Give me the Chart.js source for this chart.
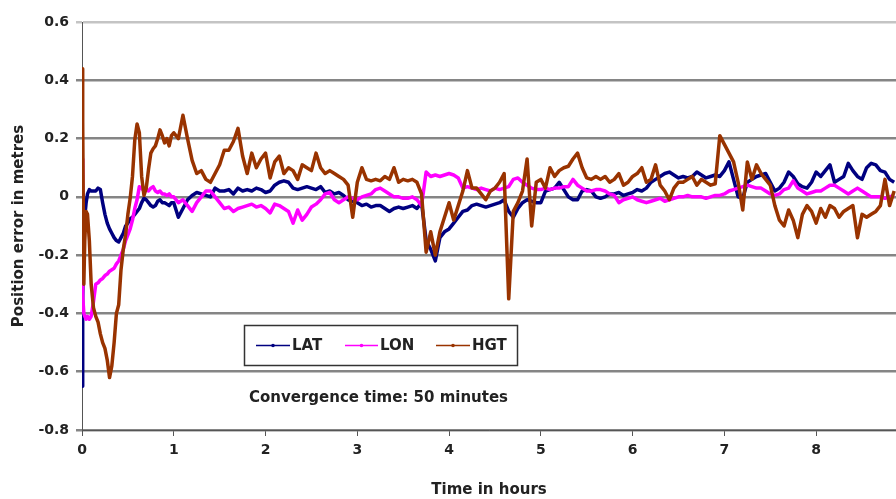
<!DOCTYPE html>
<html>
<head>
<meta charset="utf-8">
<script src="https://cdn.jsdelivr.net/npm/chart.js@4/dist/chart.umd.min.js"></script>
<style>
html,body{margin:0;padding:0;background:#fff;}
#wrap{position:relative;width:896px;height:499px;}
</style>
</head>
<body>
<div id="wrap"><canvas id="c" width="896" height="499"></canvas></div>
<script>
// Time in hours (x values)
const hours = [
  0, 0.005, 0.01, 0.02, 0.03, 0.045, 0.06, 0.08, 0.1,
  0.125, 0.15, 0.175, 0.2, 0.225, 0.25, 0.275, 0.3, 0.325, 0.35, 0.375, 0.4,
  0.425, 0.45, 0.475, 0.5, 0.525, 0.55, 0.575, 0.6, 0.625, 0.65, 0.675, 0.7,
  0.725, 0.75, 0.775, 0.8, 0.825, 0.85, 0.875, 0.9, 0.925, 0.95, 0.975, 1.0,
  1.05, 1.1, 1.15, 1.2, 1.25, 1.3, 1.35, 1.4, 1.45, 1.5, 1.55,
  1.6, 1.65, 1.7, 1.75, 1.8, 1.85, 1.9, 1.95, 2.0, 2.05,
  2.1, 2.15, 2.2, 2.25, 2.3, 2.35, 2.4, 2.45, 2.5, 2.55,
  2.6, 2.65, 2.7, 2.75, 2.8, 2.85, 2.9, 2.95, 3.0, 3.05,
  3.1, 3.15, 3.2, 3.25,
  3.3, 3.35, 3.4, 3.45, 3.5, 3.55, 3.6, 3.65, 3.7, 3.75,
  3.8, 3.85, 3.9, 3.95, 4.0, 4.05, 4.1, 4.15, 4.2, 4.25,
  4.3, 4.35, 4.4, 4.45, 4.5, 4.55, 4.6, 4.65, 4.7, 4.75,
  4.8, 4.85, 4.9, 4.95,
  5.0, 5.05, 5.1, 5.15, 5.2, 5.25, 5.3, 5.35, 5.4, 5.45,
  5.5, 5.55, 5.6, 5.65, 5.7, 5.75, 5.8, 5.85, 5.9, 5.95,
  6.0, 6.05, 6.1, 6.15, 6.2, 6.25, 6.3, 6.35, 6.4, 6.45,
  6.5, 6.55, 6.6, 6.65,
  6.7, 6.75, 6.8, 6.85, 6.9, 6.95, 7.0, 7.05, 7.1, 7.15,
  7.2, 7.25, 7.3, 7.35, 7.4, 7.45, 7.5, 7.55, 7.6, 7.65,
  7.7, 7.75, 7.8, 7.85, 7.9, 7.95, 8.0, 8.05, 8.1, 8.15,
  8.2, 8.25, 8.3, 8.35, 8.4, 8.45, 8.5, 8.55, 8.6, 8.65,
  8.7, 8.75, 8.8, 8.85
];

const LAT = [
  -0.1, -0.65, -0.35, -0.12, -0.07, -0.02, 0.01, 0.025, 0.02,
  0.02, 0.02, 0.03, 0.025, -0.02, -0.06, -0.09, -0.11, -0.125, -0.14, -0.15, -0.155,
  -0.14, -0.125, -0.1, -0.09, -0.075, -0.07, -0.06, -0.05, -0.04, -0.02, -0.005, -0.01,
  -0.02, -0.03, -0.035, -0.03, -0.015, -0.01, -0.02, -0.02, -0.025, -0.03, -0.02, -0.02,
  -0.07, -0.04, -0.01, 0.005, 0.015, 0.01, 0.005, 0.0, 0.03, 0.02, 0.02,
  0.025, 0.01, 0.03, 0.02, 0.025, 0.02, 0.03, 0.025, 0.015, 0.02,
  0.04, 0.05, 0.055, 0.05, 0.03, 0.025, 0.03, 0.035, 0.03, 0.025,
  0.035, 0.015, 0.02, 0.01, 0.015, 0.005, -0.01, -0.015, -0.02, -0.03,
  -0.025, -0.035, -0.03, -0.03,
  -0.04, -0.05, -0.04, -0.035, -0.04, -0.035, -0.03, -0.04, -0.02, -0.15,
  -0.18, -0.22, -0.14, -0.12, -0.11, -0.09, -0.07, -0.05, -0.045, -0.03,
  -0.025, -0.03, -0.035, -0.03, -0.025, -0.02, -0.01, -0.05, -0.07, -0.04,
  -0.02, -0.01, -0.015, -0.02,
  -0.02, 0.02, 0.025, 0.03, 0.05, 0.025, 0.0, -0.01, -0.01, 0.02,
  0.025, 0.02, 0.0, -0.005, 0.0, 0.01, 0.01, 0.015, 0.005, 0.01,
  0.015, 0.025, 0.02, 0.03, 0.05, 0.06, 0.07, 0.08, 0.085, 0.075,
  0.065, 0.07, 0.065, 0.07,
  0.085, 0.075, 0.065, 0.07, 0.075, 0.07, 0.09, 0.12, 0.06, 0.0,
  -0.005, 0.05, 0.06, 0.07, 0.075, 0.08, 0.05, 0.02, 0.03, 0.05,
  0.085, 0.07, 0.045, 0.035, 0.03, 0.05, 0.085, 0.07, 0.09, 0.11,
  0.05, 0.06, 0.07, 0.115, 0.09, 0.07, 0.06, 0.1, 0.115, 0.11,
  0.09, 0.085, 0.06, 0.05
];

const LON = [
  0.13, -0.2, -0.34, -0.4, -0.41, -0.42, -0.41, -0.42, -0.41,
  -0.36, -0.3, -0.295, -0.285, -0.28, -0.27, -0.265, -0.255, -0.25, -0.245, -0.23, -0.22,
  -0.2, -0.18, -0.15, -0.13, -0.11, -0.08, -0.04, -0.01, 0.035, 0.03, 0.02, 0.025,
  0.02, 0.03, 0.035, 0.02, 0.015, 0.02, 0.01, 0.01, 0.005, 0.01, 0.0, 0.0,
  -0.02, -0.01, -0.03, -0.05, -0.02, 0.0, 0.02, 0.02, 0.0, -0.02, -0.04,
  -0.035, -0.05, -0.04, -0.035, -0.03, -0.025, -0.035, -0.03, -0.04, -0.055,
  -0.025, -0.03, -0.04, -0.05, -0.09, -0.045, -0.08, -0.06, -0.035, -0.025,
  -0.01, 0.01, 0.015, -0.01, -0.02, -0.01, 0.0, -0.005, -0.01, 0.0,
  0.005, 0.01, 0.025, 0.03,
  0.02, 0.01, 0.0, 0.0, -0.005, -0.005, 0.0, -0.01, -0.03, 0.085,
  0.07, 0.075, 0.07, 0.075, 0.08, 0.075, 0.065, 0.03, 0.035, 0.03,
  0.025, 0.03, 0.025, 0.02, 0.03, 0.025, 0.03, 0.035, 0.06, 0.065,
  0.05, 0.04, 0.03, 0.025,
  0.025, 0.03, 0.025, 0.03, 0.03, 0.035, 0.035, 0.06, 0.04, 0.03,
  0.02, 0.02, 0.025, 0.025, 0.02, 0.01, 0.005, -0.02, -0.01, -0.005,
  0.0, -0.01, -0.015, -0.02, -0.015, -0.01, -0.005, -0.015, -0.01, -0.005,
  0.0, 0.0, 0.005, 0.0,
  0.0, 0.0, -0.005, 0.0, 0.005, 0.005, 0.01, 0.02, 0.025, 0.03,
  0.035, 0.04, 0.035, 0.03, 0.03, 0.02, 0.01, 0.005, 0.01, 0.025,
  0.03, 0.055, 0.03, 0.02, 0.01, 0.015, 0.02, 0.02, 0.03, 0.04,
  0.04, 0.03, 0.02, 0.01, 0.02, 0.03, 0.02, 0.01, 0.0, 0.0,
  0.0, -0.005, 0.0, 0.005
];

const HGT = [
  0.44, -0.1, 0.26, -0.3, -0.15, -0.05, -0.06, -0.15, -0.3,
  -0.38, -0.41, -0.43, -0.47, -0.5, -0.52, -0.56, -0.62, -0.58, -0.5, -0.4, -0.37,
  -0.25, -0.18, -0.13, -0.06, -0.005, 0.07, 0.195, 0.25, 0.22, 0.07, 0.005, 0.03,
  0.095, 0.15, 0.165, 0.175, 0.2, 0.23, 0.21, 0.185, 0.2, 0.175, 0.21, 0.22,
  0.2, 0.28, 0.2, 0.125, 0.08, 0.09, 0.06, 0.05, 0.08, 0.11, 0.16,
  0.16, 0.19, 0.235, 0.14, 0.08, 0.15, 0.1, 0.13, 0.15, 0.065,
  0.12, 0.14, 0.08, 0.1, 0.09, 0.06, 0.11, 0.1, 0.09, 0.15,
  0.1, 0.08, 0.09, 0.08, 0.07, 0.06, 0.04, -0.07, 0.05, 0.1,
  0.06, 0.055, 0.06, 0.055,
  0.07, 0.06, 0.1, 0.05, 0.06, 0.055, 0.06, 0.05, 0.01, -0.19,
  -0.12, -0.2, -0.12, -0.07, -0.02, -0.08, -0.03, 0.02, 0.09, 0.03,
  0.03, 0.01, -0.01, 0.02, 0.03, 0.05, 0.08, -0.35, -0.05, -0.02,
  0.02, 0.13, -0.1, 0.05,
  0.06, 0.03, 0.1, 0.07, 0.09, 0.1, 0.105, 0.13, 0.15, 0.1,
  0.065, 0.06, 0.07, 0.06, 0.07, 0.05, 0.06, 0.08, 0.04, 0.05,
  0.07, 0.08, 0.1, 0.05, 0.06, 0.11, 0.04, 0.02, -0.01, 0.03,
  0.05, 0.05, 0.06, 0.07,
  0.04, 0.06, 0.05, 0.04, 0.045, 0.21, 0.18, 0.15, 0.12, 0.05,
  -0.045, 0.12, 0.06, 0.11, 0.08, 0.06, 0.04, -0.03, -0.08, -0.1,
  -0.045, -0.08, -0.14, -0.06, -0.03, -0.05, -0.09, -0.04, -0.07, -0.03,
  -0.04, -0.07, -0.05, -0.04, -0.03, -0.14, -0.06, -0.07, -0.06, -0.05,
  -0.03, 0.06, -0.03, 0.02
];

const seriesNames = ['LAT', 'LON', 'HGT'];
const xTicks = [0, 1, 2, 3, 4, 5, 6, 7, 8];
const yTicks = [-0.8, -0.6, -0.4, -0.2, 0, 0.2, 0.4, 0.6];
const note = 'Convergence time: 50 minutes';

const colors = ['#000080', '#ff00ff', '#993300'];
const FONT = 'DejaVu Sans';

function pts(vals) { return hours.map((h, i) => ({ x: h, y: vals[i] })); }

const legendBox = {
  id: 'legendBox',
  afterDraw(chart) {
    const ctx = chart.ctx;
    ctx.save();
    ctx.fillStyle = '#ffffff';
    ctx.fillRect(244, 325, 273, 40);
    ctx.strokeStyle = '#333333';
    ctx.lineWidth = 1.5;
    ctx.strokeRect(244.5, 325.5, 273, 40);
    const items = [[256, 290, 292], [345, 378, 380], [436, 470, 472]];
    ctx.font = 'bold 15px "' + FONT + '"';
    ctx.textBaseline = 'middle';
    ctx.textAlign = 'left';
    chart.data.datasets.forEach((ds, i) => {
      const [x1, x2, tx] = items[i];
      ctx.strokeStyle = ds.borderColor;
      ctx.lineWidth = 1.5;
      ctx.beginPath();
      ctx.moveTo(x1, 345.5);
      ctx.lineTo(x2, 345.5);
      ctx.stroke();
      ctx.fillStyle = ds.borderColor;
      ctx.beginPath();
      ctx.arc((x1 + x2) / 2, 345.5, 1.8, 0, Math.PI * 2);
      ctx.fill();
      ctx.fillStyle = '#222';
      ctx.fillText(ds.label, tx, 346);
    });
    ctx.font = 'bold 15px "' + FONT + '"';
    ctx.fillStyle = '#222';
    ctx.fillText(note, 249, 398);
    ctx.restore();
  }
};

const chart = new Chart(document.getElementById('c'), {
  type: 'line',
  data: {
    datasets: [
      { label: seriesNames[0], data: pts(LAT), borderColor: colors[0], backgroundColor: colors[0], borderWidth: 3.5, order: 2 },
      { label: seriesNames[1], data: pts(LON), borderColor: colors[1], backgroundColor: colors[1], borderWidth: 3.5, order: 1 },
      { label: seriesNames[2], data: pts(HGT), borderColor: colors[2], backgroundColor: colors[2], borderWidth: 3.5, order: 0 }
    ]
  },
  options: {
    responsive: false,
    animation: false,
    devicePixelRatio: 1,
    layout: { padding: { top: 22, right: 0, left: 0, bottom: 0 } },
    elements: { point: { radius: 0, hoverRadius: 0 }, line: { tension: 0, borderJoinStyle: 'round' } },
    plugins: { legend: { display: false }, tooltip: { enabled: false } },
    scales: {
      x: {
        type: 'linear', min: 0, max: 8.87,
        afterBuildTicks: s => { s.ticks = xTicks.map(v => ({ value: v })); },
        afterFit: s => { s.height = 69; },
        grid: { drawOnChartArea: false, drawTicks: true, tickLength: 6, color: '#555', lineWidth: 1 },
        border: { display: true, color: '#555', width: 1 },
        ticks: { font: { family: FONT, size: 14, weight: 'bold' }, color: '#222', padding: 6, maxRotation: 0, autoSkip: false },
        title: { display: true, text: 'Time in hours', color: '#222', font: { family: FONT, size: 15, weight: 'bold' }, padding: { top: 0, bottom: 0 } }
      },
      y: {
        type: 'linear', min: -0.8, max: 0.6,
        afterBuildTicks: s => { s.ticks = yTicks.map(v => ({ value: v })); },
        afterFit: s => { s.width = 82; },
        grid: {
          color: c => (c.tick && c.tick.value === 0.6) ? '#c4c4c4' : '#858585',
          lineWidth: 2.5, tickLength: 6, drawTicks: true
        },
        border: { display: true, color: '#555', width: 1 },
        ticks: {
          font: { family: FONT, size: 14, weight: 'bold' }, color: '#222', padding: 7,
          callback: v => String(Math.round(v * 10) / 10)
        },
        title: { display: true, text: 'Position error in metres', color: '#222', font: { family: FONT, size: 15, weight: 'bold' }, padding: { top: 10, bottom: 0 } }
      }
    }
  },
  plugins: [legendBox]
});
</script>
</body>
</html>
